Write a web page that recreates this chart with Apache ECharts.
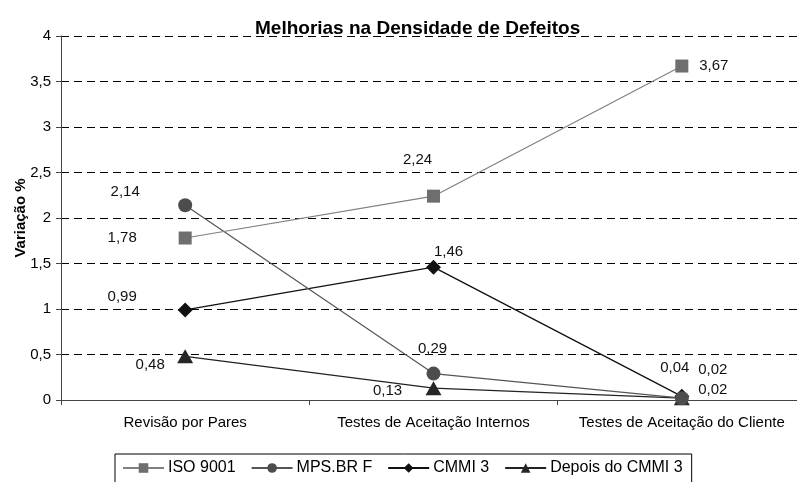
<!DOCTYPE html>
<html>
<head>
<meta charset="utf-8">
<script src="https://cdn.jsdelivr.net/npm/echarts@6/dist/echarts.min.js"></script>
<style>
  html, body { margin: 0; padding: 0; background: #fff; }
  #main { width: 797px; height: 482px; }
</style>
</head>
<body>
<div id="main"></div>
<script>
// dados do gráfico
var categorias = ['Revisão por Pares', 'Testes de Aceitação Internos', 'Testes de Aceitação do Cliente'];
var iso9001 = [1.78, 2.24, 3.67];
var mpsbrF = [2.14, 0.29, 0.02];
var cmmi3 = [0.99, 1.46, 0.04];
var depoisCmmi3 = [0.48, 0.13, 0.02];
var nomes = ['ISO 9001', 'MPS.BR F', 'CMMI 3', 'Depois do CMMI 3'];

// deslocamento dos rotulos em relacao ao ponto (estilo)
var rotulos = [
    [[-63, 0], [-16, -36], [32, 0]],
    [[-60, -13], [-1, -25], [31, -28]],
    [[-63, -13], [15, -15], [-7, -29]],
    [[-35, 9], [-46, 3], [31, -8]]
];

function virgula(v) {
    return v.toFixed(2).replace('.', ',');
}

function montaDados(valores, idx) {
    return valores.map(function (v, i) {
        return {
            value: v,
            label: {
                show: true,
                position: 'inside',
                offset: rotulos[idx][i]
            }
        };
    });
}

var cores = ['#6e6e6e', '#4d4d4d', '#111111', '#262626'];
var linhas = ['#808080', '#555555', '#111111', '#222222'];
var simbolos = ['rect', 'circle', 'diamond', 'triangle'];
var tamanhos = [[13, 13], 14, [15, 15], [16, 14]];
var valores = [iso9001, mpsbrF, cmmi3, depoisCmmi3];

var myChart = echarts.init(document.getElementById('main'));

var series = [];
for (var i = 0; i < 4; i++) {
    series.push({
        name: nomes[i],
        type: 'line',
        data: montaDados(valores[i], i),
        symbol: simbolos[i],
        symbolSize: tamanhos[i],
        showAllSymbol: true,
        lineStyle: { color: linhas[i], width: i >= 2 ? 1.3 : 1.2 },
        itemStyle: { color: cores[i] },
        label: {
            color: '#111',
            fontSize: 15,
            fontFamily: 'Liberation Sans',
            formatter: function (p) { return virgula(p.value); }
        },
        z: 10 - i
    });
}

var option = {
    animation: false,
    backgroundColor: '#fff',
    title: {
        text: 'Melhorias na Densidade de Defeitos',
        left: 250,
        top: 14,
        textStyle: {
            fontFamily: 'Liberation Sans',
            fontSize: 19,
            fontWeight: 'bold',
            color: '#000'
        }
    },
    legend: {
        data: nomes,
        top: 454,
        left: 115,
        itemWidth: 41,
        itemHeight: 12,
        itemGap: 15,
        padding: [6, 9, 10, 7],
        borderColor: '#000',
        borderWidth: 1,
        textStyle: {
            fontFamily: 'Liberation Sans',
            fontSize: 16,
            color: '#000',
            padding: [0, 0, 0, -1]
        }
    },
    grid: {
        left: 61,
        top: 36,
        width: 745,
        height: 364,
        outerBoundsMode: 'none'
    },
    xAxis: {
        type: 'category',
        data: categorias,
        boundaryGap: true,
        axisLine: { lineStyle: { color: '#444', width: 1 } },
        axisTick: { show: true, length: 5, lineStyle: { color: '#444' } },
        axisLabel: {
            interval: 0,
            hideOverlap: false,
            margin: 15,
            fontFamily: 'Liberation Sans',
            fontSize: 15,
            color: '#000'
        }
    },
    yAxis: {
        type: 'value',
        min: 0,
        max: 4,
        interval: 0.5,
        name: 'Variação %',
        nameLocation: 'middle',
        nameGap: 33,
        nameMoveOverlap: false,
        nameTextStyle: {
            fontFamily: 'Liberation Sans',
            fontSize: 15,
            fontWeight: 'bold',
            color: '#000'
        },
        axisLine: { show: true, lineStyle: { color: '#444', width: 1 } },
        axisTick: { show: true, length: 5, lineStyle: { color: '#444' } },
        axisLabel: {
            margin: 10,
            fontFamily: 'Liberation Sans',
            fontSize: 15,
            color: '#000',
            formatter: function (v) { return String(v).replace('.', ','); }
        },
        splitLine: {
            show: true,
            lineStyle: { color: '#000', type: [8, 5], width: 1 }
        }
    },
    series: series
};

myChart.setOption(option);
</script>
</body>
</html>
